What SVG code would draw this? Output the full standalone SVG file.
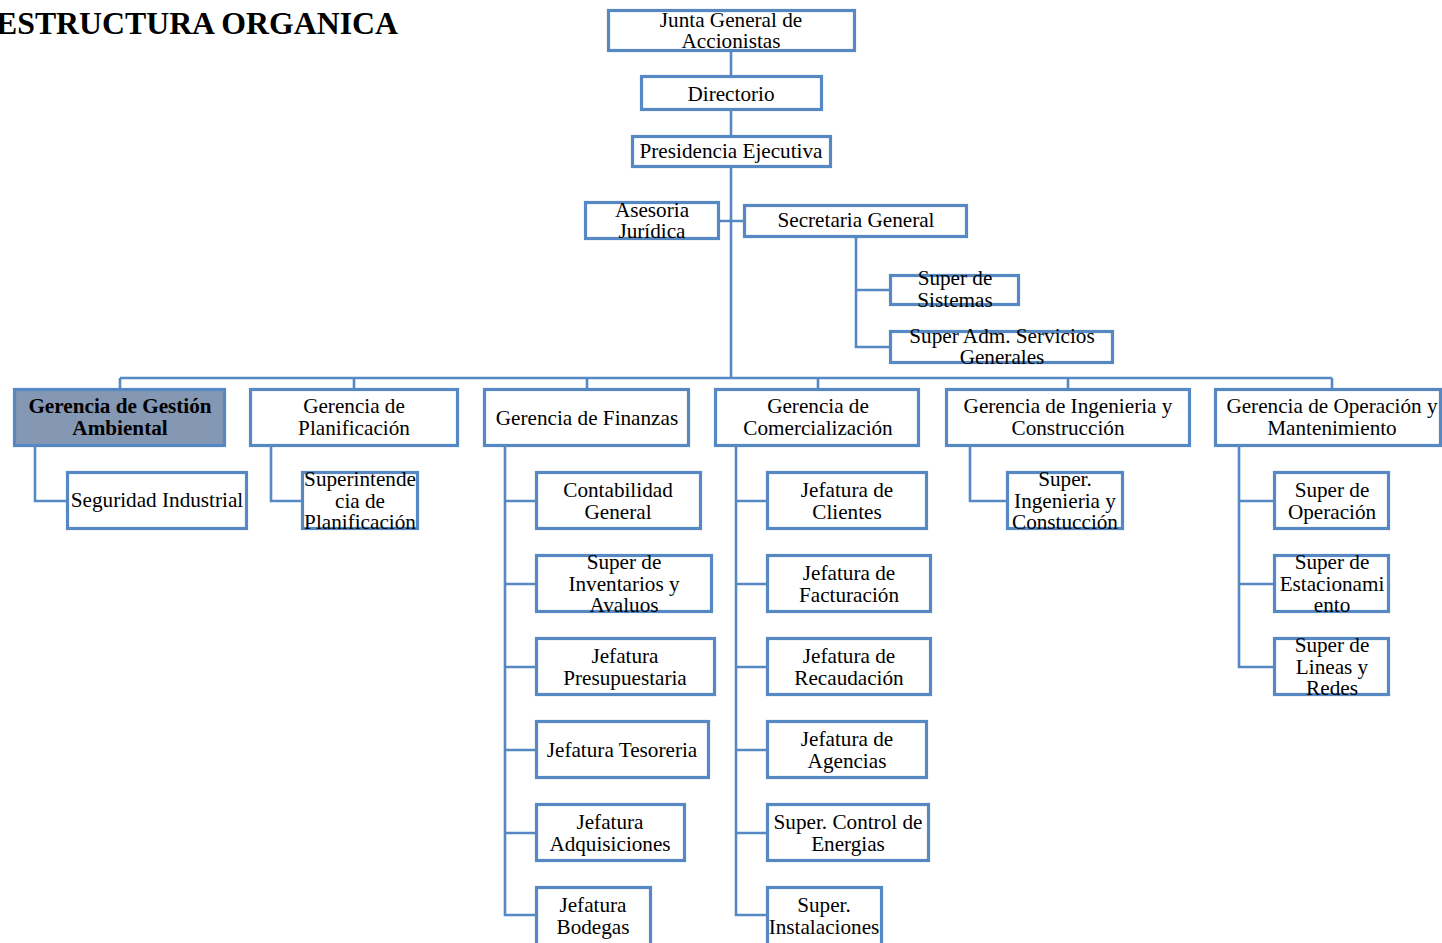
<svg xmlns="http://www.w3.org/2000/svg" width="1442" height="943" viewBox="0 0 1442 943">
<style>
.box{fill:#fff;stroke:#5689C4;stroke-width:3.2}
.hl{fill:#8497B3}
.c{fill:none;stroke:#5689C4;stroke-width:2.6}
.t{font-family:"Liberation Serif","Times New Roman",serif;font-size:21.2px;text-anchor:middle;fill:#000}
.b{font-weight:bold}
</style>
<rect width="1442" height="943" fill="#fff"/>
<text x="-4" y="34" style="font-family:'Liberation Serif',serif;font-size:31.8px;font-weight:bold;fill:#000">ESTRUCTURA ORGANICA</text>
<g id="connectors">
<path class="c" d="M731 52V75M731 111V135M731 168V378M720 221H743M856 238V347H889M856 290H889"/>
<path class="c" d="M120 378H1332M120 378V388M354 378V388M587 378V388M818 378V388M1068 378V388M1332 378V388"/>
<path class="c" d="M35 447V501H66M271 447V501H301M970 447V501H1006"/>
<path class="c" d="M505 447V915H535M505 501H535M505 584H535M505 667H535M505 750H535M505 833H535"/>
<path class="c" d="M736 447V915H766M736 501H766M736 584H766M736 667H766M736 750H766M736 833H766"/>
<path class="c" d="M1239 447V667H1273M1239 501H1273M1239 584H1273"/>
</g>
<g id="n-junta"><rect class="box" x="608.5" y="10.5" width="246" height="40"/><text class="t" x="731" y="27">Junta General de</text><text class="t" x="731" y="48">Accionistas</text></g>
<g id="n-directorio"><rect class="box" x="641.5" y="76.5" width="180" height="33"/><text class="t" x="731" y="101">Directorio</text></g>
<g id="n-presidencia"><rect class="box" x="632.5" y="136.5" width="198" height="30"/><text class="t" x="731" y="158">Presidencia Ejecutiva</text></g>
<g id="n-asesoria"><rect class="box" x="585.5" y="202.5" width="133" height="36"/><text class="t" x="652" y="217">Asesoria</text><text class="t" x="652" y="238">Jurídica</text></g>
<g id="n-secretaria"><rect class="box" x="744.5" y="205.5" width="222" height="31"/><text class="t" x="856" y="227">Secretaria General</text></g>
<g id="n-sistemas"><rect class="box" x="890.5" y="275.5" width="128" height="29"/><text class="t" x="955" y="285">Super de</text><text class="t" x="955" y="307">Sistemas</text></g>
<g id="n-servgen"><rect class="box" x="890.5" y="331.5" width="222" height="31"/><text class="t" x="1002" y="343">Super Adm. Servicios</text><text class="t" x="1002" y="364">Generales</text></g>
<g id="n-ambiental"><rect class="box hl" x="14.5" y="389.5" width="210" height="56"/><text class="t b" x="120" y="413">Gerencia de Gestión</text><text class="t b" x="120" y="435">Ambiental</text></g>
<g id="n-planif"><rect class="box" x="250.5" y="389.5" width="207" height="56"/><text class="t" x="354" y="413">Gerencia de</text><text class="t" x="354" y="435">Planificación</text></g>
<g id="n-finanzas"><rect class="box" x="484.5" y="389.5" width="204" height="56"/><text class="t" x="587" y="425">Gerencia de Finanzas</text></g>
<g id="n-comerc"><rect class="box" x="715.5" y="389.5" width="203" height="56"/><text class="t" x="818" y="413">Gerencia de</text><text class="t" x="818" y="435">Comercialización</text></g>
<g id="n-ingen"><rect class="box" x="946.5" y="389.5" width="243" height="56"/><text class="t" x="1068" y="413">Gerencia de Ingenieria y</text><text class="t" x="1068" y="435">Construcción</text></g>
<g id="n-operac"><rect class="box" x="1215.5" y="389.5" width="225" height="56"/><text class="t" x="1332" y="413">Gerencia de Operación y</text><text class="t" x="1332" y="435">Mantenimiento</text></g>
<g id="n-seguridad"><rect class="box" x="67.5" y="472.5" width="179" height="56"/><text class="t" x="157" y="507">Seguridad Industrial</text></g>
<g id="n-superplanif"><rect class="box" x="302.5" y="472.5" width="115" height="56"/><text class="t" x="360" y="486">Superintende</text><text class="t" x="360" y="508">cia de</text><text class="t" x="360" y="529">Planificación</text></g>
<g id="n-contab"><rect class="box" x="536.5" y="472.5" width="164" height="56"/><text class="t" x="618" y="497">Contabilidad</text><text class="t" x="618" y="519">General</text></g>
<g id="n-invent"><rect class="box" x="536.5" y="555.5" width="175" height="56"/><text class="t" x="624" y="569">Super de</text><text class="t" x="624" y="591">Inventarios y</text><text class="t" x="624" y="612">Avaluos</text></g>
<g id="n-presup"><rect class="box" x="536.5" y="638.5" width="178" height="56"/><text class="t" x="625" y="663">Jefatura</text><text class="t" x="625" y="685">Presupuestaria</text></g>
<g id="n-tesor"><rect class="box" x="536.5" y="721.5" width="172" height="56"/><text class="t" x="622" y="757">Jefatura Tesoreria</text></g>
<g id="n-adquis"><rect class="box" x="536.5" y="804.5" width="148" height="56"/><text class="t" x="610" y="829">Jefatura</text><text class="t" x="610" y="851">Adquisiciones</text></g>
<g id="n-bodegas"><rect class="box" x="536.5" y="887.5" width="114" height="60"/><text class="t" x="593" y="912">Jefatura</text><text class="t" x="593" y="934">Bodegas</text></g>
<g id="n-clientes"><rect class="box" x="767.5" y="472.5" width="159" height="56"/><text class="t" x="847" y="497">Jefatura de</text><text class="t" x="847" y="519">Clientes</text></g>
<g id="n-factur"><rect class="box" x="767.5" y="555.5" width="163" height="56"/><text class="t" x="849" y="580">Jefatura de</text><text class="t" x="849" y="602">Facturación</text></g>
<g id="n-recaud"><rect class="box" x="767.5" y="638.5" width="163" height="56"/><text class="t" x="849" y="663">Jefatura de</text><text class="t" x="849" y="685">Recaudación</text></g>
<g id="n-agencias"><rect class="box" x="767.5" y="721.5" width="159" height="56"/><text class="t" x="847" y="746">Jefatura de</text><text class="t" x="847" y="768">Agencias</text></g>
<g id="n-energias"><rect class="box" x="767.5" y="804.5" width="161" height="56"/><text class="t" x="848" y="829">Super. Control de</text><text class="t" x="848" y="851">Energias</text></g>
<g id="n-instal"><rect class="box" x="767.5" y="887.5" width="114" height="60"/><text class="t" x="824" y="912">Super.</text><text class="t" x="824" y="934">Instalaciones</text></g>
<g id="n-superingen"><rect class="box" x="1007.5" y="472.5" width="115" height="56"/><text class="t" x="1065" y="486">Super.</text><text class="t" x="1065" y="508">Ingenieria y</text><text class="t" x="1065" y="529">Constucción</text></g>
<g id="n-superoper"><rect class="box" x="1274.5" y="472.5" width="114" height="56"/><text class="t" x="1332" y="497">Super de</text><text class="t" x="1332" y="519">Operación</text></g>
<g id="n-estac"><rect class="box" x="1274.5" y="555.5" width="114" height="56"/><text class="t" x="1332" y="569">Super de</text><text class="t" x="1332" y="591">Estacionami</text><text class="t" x="1332" y="612">ento</text></g>
<g id="n-lineas"><rect class="box" x="1274.5" y="638.5" width="114" height="56"/><text class="t" x="1332" y="652">Super de</text><text class="t" x="1332" y="674">Lineas y</text><text class="t" x="1332" y="695">Redes</text></g>
</svg>
